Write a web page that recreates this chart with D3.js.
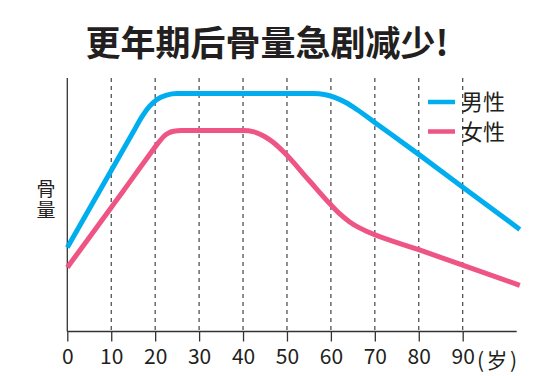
<!DOCTYPE html>
<html><head><meta charset="utf-8">
<script src="https://cdn.jsdelivr.net/npm/d3@7"></script>
<style>
html,body{margin:0;padding:0;background:#fff;}
text{font-family:"Noto Sans CJK SC","Noto Sans",sans-serif;}
</style></head>
<body>
<svg id="c" width="550" height="376"></svg>
<script>
const title = "更年期后骨量急剧减少!";
const yLabel = "骨量";
const xTicks = [0,10,20,30,40,50,60,70,80,90];
const xUnit = "(岁)";
const seriesNames = ["男性","女性"];
const seriesColors = ["#00AEEF","#EE5585"];
// age (years) vs bone mass (relative)
const maleAges   = [0, 10, 15, 17, 18.7, 20.5, 22.6, 25, 40, 56, 58.5, 61, 63.5, 66, 70.3, 80.3, 90.1, 103];
const maleValues = [32.4, 62.2, 77.0, 83.0, 86.9, 89.7, 91.3, 91.9, 91.9, 91.9, 91.5, 90.3, 88.3, 85.6, 80.3, 68.0, 55.6, 39.4];
const femaleAges   = [0, 10, 12.5, 18, 20.8, 22.0, 23.0, 24.2, 26, 40, 42.5, 44.8, 47.2, 49.5, 55, 60, 62.1, 64.2, 66.4, 68.5, 80, 90, 103];
const femaleValues = [24.7, 47.9, 53.7, 66.6, 73.0, 75.4, 76.6, 77.3, 77.6, 77.6, 77.1, 75.4, 72.6, 68.9, 58.4, 48.9, 45.3, 42.4, 40.1, 38.4, 31.6, 25.6, 17.8];

const svg = d3.select("#c");
const x = d3.scaleLinear().domain([0, 90]).range([67.3, 462.7]);
const y = d3.scaleLinear().domain([0, 100]).range([331.5, 72.5]);

// title
svg.append("text").attr("x", 267).attr("y", 56).attr("text-anchor","middle")
  .attr("font-size", 35).attr("font-weight", "bold").attr("fill","#231f20").text(title);

// grid dashed
svg.append("g").selectAll("line").data(xTicks.slice(1)).join("line")
  .attr("x1", d=>x(d)).attr("x2", d=>x(d)).attr("y1", 78).attr("y2", y(0))
  .attr("stroke","#444").attr("stroke-width",1.2).attr("stroke-dasharray","4,4");

// y axis line
svg.append("line").attr("x1", x(0)).attr("x2", x(0)).attr("y1", 78).attr("y2", y(0))
  .attr("stroke","#333").attr("stroke-width",1.3);

// x axis
const xAxis = d3.axisBottom(x).tickValues(xTicks).tickSize(10).tickSizeOuter(0).tickPadding(8);
const gx = svg.append("g").attr("transform", `translate(0,${y(0)})`).call(xAxis);
gx.select(".domain").remove();
gx.append("line").attr("x1", x(0)).attr("x2", 516.7).attr("y1",0).attr("y2",0)
  .attr("stroke","#333").attr("stroke-width",1.3);
gx.selectAll(".tick line").attr("stroke","#333").attr("stroke-width",1.3);
gx.selectAll(".tick text").attr("font-size", 21).attr("fill","#231f20")
  .attr("font-family","'Noto Sans CJK SC','Noto Sans',sans-serif");
svg.append("text").attr("x", 477).attr("y", 368).attr("font-size", 21)
  .attr("letter-spacing", 2.5).attr("fill","#231f20").text(xUnit);

// y label (vertical)
svg.append("text").attr("x", 46).attr("y", 200.5).attr("text-anchor","middle")
  .attr("writing-mode","vertical-rl").attr("letter-spacing", 2)
  .attr("font-size", 19).attr("fill","#231f20").text(yLabel);

// lines
const line = d3.line().x(d=>x(d[0])).y(d=>y(d[1])).curve(d3.curveMonotoneX);
const data = [d3.zip(maleAges, maleValues), d3.zip(femaleAges, femaleValues)];
svg.append("g").selectAll("path").data(data).join("path")
  .attr("d", line).attr("fill","none").attr("stroke",(d,i)=>seriesColors[i])
  .attr("stroke-width",5).attr("stroke-linejoin","round");

// legend
const lg = svg.append("g").selectAll("g").data(seriesNames).join("g")
  .attr("transform",(d,i)=>`translate(428,${102 + i*29.5})`);
lg.append("line").attr("x1",0).attr("x2",27).attr("stroke",(d,i)=>seriesColors[i]).attr("stroke-width",4.5);
lg.append("text").attr("x",33).attr("y",8).attr("font-size",22).attr("fill","#231f20").text(d=>d);
</script>
</body></html>
